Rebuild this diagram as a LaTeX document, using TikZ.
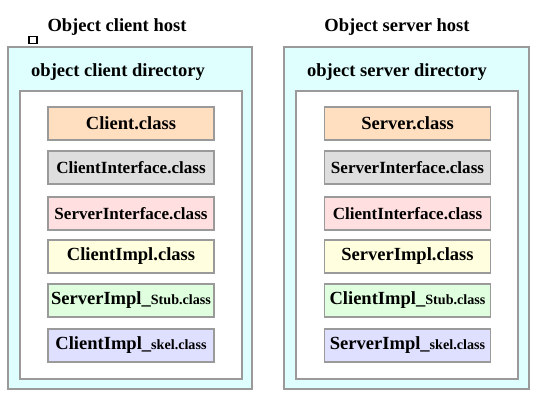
\documentclass[tikz,border=0pt]{standalone}
\usepackage{fontspec}
\setmainfont{Liberation Serif}
\definecolor{hostfill}{HTML}{DFFFFF}
\definecolor{frameline}{HTML}{9A9A9A}
\definecolor{cpeach}{HTML}{FFDFC0}
\definecolor{cgray}{HTML}{DEDEDE}
\definecolor{cpink}{HTML}{FFDFDF}
\definecolor{cyellow}{HTML}{FFFFDF}
\definecolor{cgreen}{HTML}{DFFFDF}
\definecolor{cblue}{HTML}{DFDFFF}
\newcommand{\bigf}{\fontsize{13.9}{16}\selectfont}
\newcommand{\midf}{\fontsize{12.8}{15}\selectfont}
\newcommand{\smallf}{\fontsize{10.6}{12}\selectfont}
\tikzset{
  hostbox/.style={draw=frameline, line width=1.5pt, fill=hostfill, minimum width=183pt, minimum height=256.5pt, inner sep=0pt},
  dirbox/.style={draw=frameline, line width=1.2pt, fill=white, minimum width=166.5pt, minimum height=216pt, inner sep=0pt},
  clsbox/.style={draw=frameline, line width=1pt, minimum width=124.5pt, minimum height=24.75pt, inner sep=0pt, font=\bfseries\bigf},
  titletext/.style={font=\bfseries\bigf, inner sep=0pt},
  dirtext/.style={font=\bfseries\bigf, inner sep=0pt},
}
\begin{document}
\begin{tikzpicture}[x=0.75pt,y=-0.75pt]
\useasboundingbox (0,0) rectangle (547,408);
% left host
\node[titletext] (lt) at (117,27) {Object client host};
\node[draw=black, line width=0.8pt, fill=white, minimum width=6pt, minimum height=5pt, inner sep=0pt] (sq) at (33,40) {};
\node[hostbox] (lh) at (130,218) {};
\node[dirtext] (ld) at (118,72) {object client directory};
\node[dirbox] (ldir) at (131,235) {};
\node[clsbox, fill=cpeach] (l1) at (131,123.5) {Client.class};
\node[clsbox, fill=cgray, font=\bfseries\midf] (l2) at (131,167.5) {ClientInterface.class};
\node[clsbox, fill=cpink, font=\bfseries\midf] (l3) at (131,213.5) {ServerInterface.class};
\node[clsbox, fill=cyellow] (l4) at (131,256.5) {ClientImpl.class};
\node[clsbox, fill=cgreen] (l5) at (131,300.5) {ServerImpl\_{\smallf Stub.class}};
\node[clsbox, fill=cblue] (l6) at (131,345.5) {ClientImpl\_{\smallf skel.class}};
% right host
\node[titletext] (rt) at (397,27) {Object server host};
\node[hostbox, minimum width=183.75pt] (rh) at (406.5,218) {};
\node[dirtext] (rd) at (397,72) {object server directory};
\node[dirbox] (rdir) at (407,235) {};
\node[clsbox, fill=cpeach] (r1) at (407.5,123.5) {Server.class};
\node[clsbox, fill=cgray, font=\bfseries\midf] (r2) at (407.5,167.5) {ServerInterface.class};
\node[clsbox, fill=cpink, font=\bfseries\midf] (r3) at (407.5,213.5) {ClientInterface.class};
\node[clsbox, fill=cyellow] (r4) at (407.5,256.5) {ServerImpl.class};
\node[clsbox, fill=cgreen] (r5) at (407.5,300.5) {ClientImpl\_{\smallf Stub.class}};
\node[clsbox, fill=cblue] (r6) at (407.5,345.5) {ServerImpl\_{\smallf skel.class}};
\end{tikzpicture}
\end{document}
